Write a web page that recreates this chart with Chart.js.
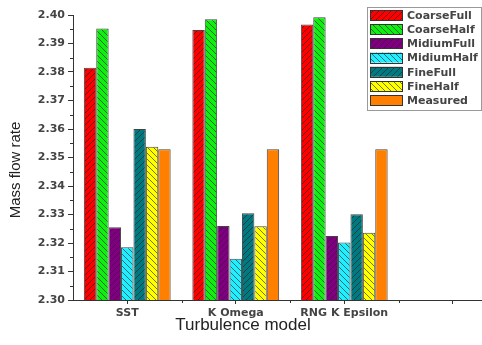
<!DOCTYPE html>
<html>
<head>
<meta charset="utf-8">
<script src="https://cdn.jsdelivr.net/npm/chart.js@4/dist/chart.umd.min.js"></script>
<style>
  html, body { margin: 0; padding: 0; background: #fff; overflow: hidden; }
  #wrap { width: 482px; height: 345px; overflow: hidden; }
</style>
</head>
<body>
<div id="wrap"><canvas id="chart" width="540" height="345"></canvas></div>
<script>
const categories = ["SST", "K Omega", "RNG K Epsilon", ""];
const seriesNames = ["CoarseFull", "CoarseHalf", "MidiumFull", "MidiumHalf", "FineFull", "FineHalf", "Measured"];
const coarseFull = [2.3815, 2.3947, 2.3967, null];
const coarseHalf = [2.3953, 2.3985, 2.3992, null];
const midiumFull = [2.3255, 2.3260, 2.3225, null];
const midiumHalf = [2.3185, 2.3145, 2.3202, null];
const fineFull = [2.3600, 2.3304, 2.3301, null];
const fineHalf = [2.3538, 2.3259, 2.3236, null];
const measured = [2.3529, 2.3529, 2.3529, null];
const yMin = 2.30, yMax = 2.40, yStep = 0.01;

// hatched fills like the Origin export
function hatch(color, dir, lineColor) {
    const s = 6;
    const c = document.createElement("canvas");
    c.width = s; c.height = s;
    const g = c.getContext("2d");
    g.fillStyle = color;
    g.fillRect(0, 0, s, s);
    if (dir) {
        g.strokeStyle = lineColor;
        g.lineWidth = 1;
        g.beginPath();
        if (dir === "/") {
            g.moveTo(-1, s + 1); g.lineTo(s + 1, -1);
            g.moveTo(-1, 1); g.lineTo(1, -1);
            g.moveTo(s - 1, s + 1); g.lineTo(s + 1, s - 1);
        } else {
            g.moveTo(-1, -1); g.lineTo(s + 1, s + 1);
            g.moveTo(s - 1, -1); g.lineTo(s + 1, 1);
            g.moveTo(-1, s - 1); g.lineTo(1, s + 1);
        }
        g.stroke();
    }
    return g.createPattern(c, "repeat");
}

const ctx = document.getElementById("chart").getContext("2d");
const dark = "rgba(30,30,30,0.6)";
const fills = [
    hatch("#ff0000", "/", dark),
    hatch("#11ee11", "\\", dark),
    hatch("#7d007d", "/", "rgba(40,0,40,0.3)"),
    hatch("#22eeff", "\\", dark),
    hatch("#007a80", "/", dark),
    hatch("#ffff00", "\\", dark),
    hatch("#ff8000", null)
];
const seriesData = [coarseFull, coarseHalf, midiumFull, midiumHalf, fineFull, fineHalf, measured];

const extras = {
    id: "extras",
    afterDraw(chart) {
        const c = chart.ctx;
        const x = chart.scales.x, y = chart.scales.y;
        const area = chart.chartArea;
        c.save();
        c.strokeStyle = "#333";
        c.lineWidth = 1;
        // minor ticks
        c.beginPath();
        for (let v = yMin + yStep / 2; v < yMax; v += yStep) {
            const py = Math.round(y.getPixelForValue(v)) + 0.5;
            c.moveTo(area.left - 3, py); c.lineTo(area.left, py);
        }
        for (let i = 0; i < categories.length; i++) {
            const px = Math.round(x.getPixelForValue(i) + (x.getPixelForValue(1) - x.getPixelForValue(0)) / 2) + 0.5;
            c.moveTo(px, area.bottom); c.lineTo(px, area.bottom + 3);
        }
        c.stroke();

        // axis titles
        c.fillStyle = "#222";
        c.font = "17px 'Liberation Sans', Arial, sans-serif";
        c.textAlign = "center";
        c.textBaseline = "alphabetic";
        c.fillText("Turbulence model", 243, 330);
        c.save();
        c.translate(20, 170);
        c.rotate(-Math.PI / 2);
        c.font = "15px 'Liberation Sans', Arial, sans-serif";
        c.fillText("Mass flow rate", 0, 0);
        c.restore();

        // legend box
        const bx = 367.5, by = 7.5, bw = 114, bh = 103;
        c.fillStyle = "#fff";
        c.fillRect(bx, by, bw, bh);
        c.strokeStyle = "#999";
        c.strokeRect(bx, by, bw, bh);
        c.font = "bold 11px 'DejaVu Sans', sans-serif";
        c.textAlign = "left";
        c.textBaseline = "middle";
        chart.data.datasets.forEach((ds, i) => {
            const cy = 15 + i * 14.2;
            c.fillStyle = ds.backgroundColor;
            c.fillRect(370, cy - 5, 32, 10);
            c.strokeStyle = "#333";
            c.strokeRect(370.5, Math.round(cy - 5) + 0.5, 32, 10);
            c.fillStyle = "#444";
            c.fillText(ds.label, 407, cy + 1);
        });
        c.restore();
    }
};

new Chart(ctx, {
    type: "bar",
    data: {
        labels: categories,
        datasets: seriesNames.map((name, i) => ({
            label: name,
            data: seriesData[i],
            backgroundColor: fills[i],
            borderColor: "#444",
            borderWidth: 1,
            borderSkipped: "bottom",
            categoryPercentage: 0.8,
            barPercentage: 1.0
        }))
    },
    options: {
        responsive: false,
        animation: false,
        layout: { padding: { top: 15, right: 33, left: 0, bottom: 0 } },
        plugins: {
            legend: { display: false },
            tooltip: { enabled: false }
        },
        scales: {
            x: {
                afterFit: s => { s.height = 45; },
                grid: { offset: false, drawOnChartArea: false, tickLength: 4, color: "#333" },
                border: { display: true, color: "#333", width: 1 },
                ticks: {
                    color: "#444",
                    padding: 3,
                    maxRotation: 0,
                    font: { family: "'DejaVu Sans', sans-serif", size: 11, weight: "bold" }
                }
            },
            y: {
                min: yMin,
                max: yMax,
                afterFit: s => { s.width = 73; },
                grid: { drawOnChartArea: false, tickLength: 5, color: "#333" },
                border: { display: true, color: "#333", width: 1 },
                ticks: {
                    stepSize: yStep,
                    color: "#444",
                    padding: 3,
                    callback: v => Number(v).toFixed(2),
                    font: { family: "'DejaVu Sans', sans-serif", size: 11, weight: "bold" }
                }
            }
        }
    },
    plugins: [extras]
});
</script>
</body>
</html>
